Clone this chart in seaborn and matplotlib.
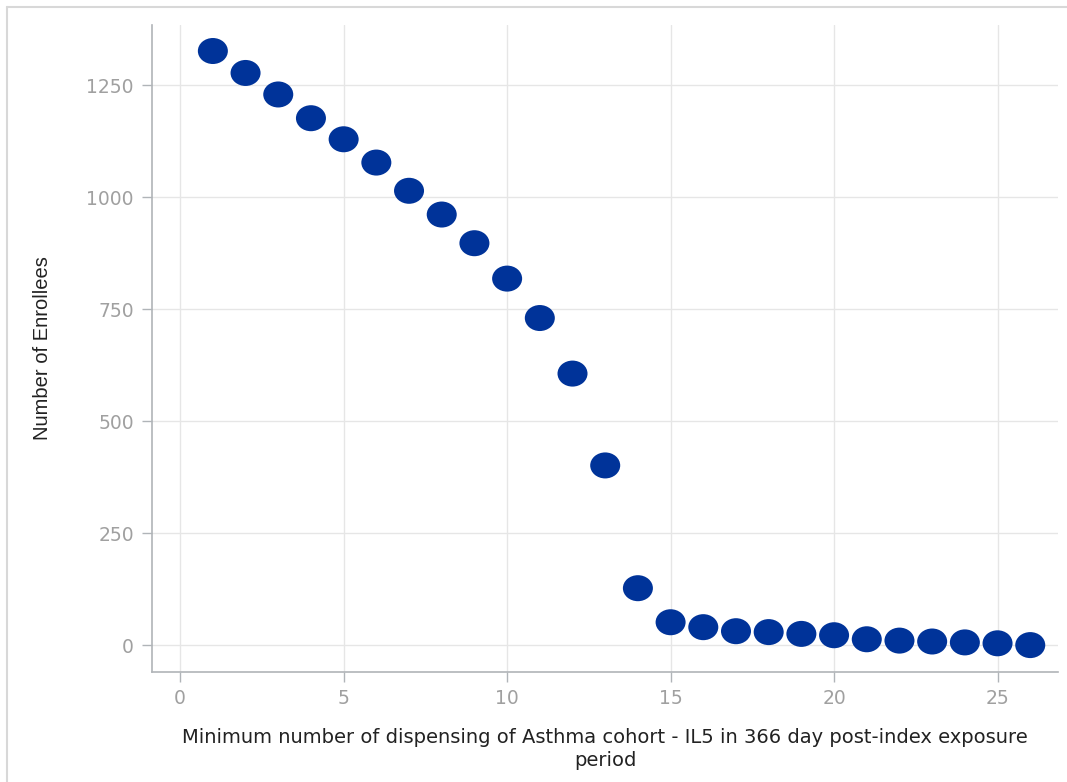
import matplotlib
matplotlib.use('Agg')
import matplotlib.pyplot as plt
import seaborn as sns
import pandas as pd
from matplotlib.path import Path
from matplotlib.transforms import Affine2D
from matplotlib.lines import Line2D

# data
min_dispensing = [1, 2, 3, 4, 5, 6, 7, 8, 9, 10, 11, 12, 13,
                  14, 15, 16, 17, 18, 19, 20, 21, 22, 23, 24, 25, 26]
enrollees = [1326, 1277, 1229, 1176, 1129, 1077, 1014, 961, 897, 818, 730, 606, 401,
             127, 51, 40, 31, 29, 25, 22, 13, 10, 8, 6, 4, 0]
x_ticks = [0, 5, 10, 15, 20, 25]
y_ticks = [0, 250, 500, 750, 1000, 1250]

df = pd.DataFrame({'x': min_dispensing, 'y': enrollees})

sns.set_style('white')
plt.rcParams['font.family'] = ['DejaVu Sans']

fig = plt.figure(figsize=(10.67, 7.82), dpi=100)
ax = fig.add_axes([0.1425, 0.1407, 0.8491, 0.8273])

# ellipse marker, a bit wider than tall
ellipse = Path.unit_circle().transformed(Affine2D().scale(1.0, 26 / 30))
sns.scatterplot(data=df, x='x', y='y', ax=ax, marker=ellipse, s=467,
                color='#003399', edgecolor='none', linewidth=0, zorder=3)

ax.set_xlim(-0.86, 26.85)
ax.set_ylim(-60, 1384)
ax.set_xticks(x_ticks)
ax.set_yticks(y_ticks)
ax.grid(True, color='#e6e6e6', linewidth=1)
ax.set_axisbelow(True)

for side in ['top', 'right']:
    ax.spines[side].set_visible(False)
for side in ['left', 'bottom']:
    ax.spines[side].set_color('#b0b4b8')
    ax.spines[side].set_linewidth(1.2)

ax.tick_params(axis='both', direction='out', length=7, width=1, color='#b0b4b8',
               labelcolor='#a0a0a0', labelsize=13.5)
ax.tick_params(axis='y', pad=6, left=True)
ax.tick_params(axis='x', pad=5, bottom=True)

ax.set_xlabel('Minimum number of dispensing of Asthma cohort - IL5 in 366 day post-index exposure\nperiod',
              fontsize=14, color='#222222', labelpad=15, linespacing=1.25)
ax.set_ylabel('Number of Enrollees', fontsize=14.5, color='#222222', labelpad=25,
              family='Liberation Sans')

# partial frame from the screenshot (top and left edges)
fig.add_artist(Line2D([0.007, 0.007], [0.0, 0.991], transform=fig.transFigure,
                      color='#d8d8d8', linewidth=1.5))
fig.add_artist(Line2D([0.007, 1.0], [0.991, 0.991], transform=fig.transFigure,
                      color='#d8d8d8', linewidth=1.5))

fig.savefig('out.png', dpi=100)
